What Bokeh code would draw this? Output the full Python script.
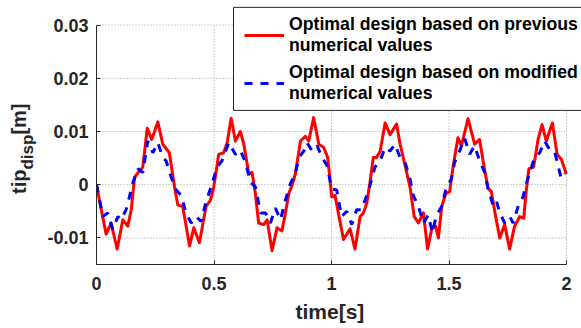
from bokeh.plotting import figure
from bokeh.layouts import row
from bokeh.models import Legend, LegendItem, FixedTicker, BoxAnnotation, Range1d, Title, Div
from bokeh.embed import file_html
from bokeh.resources import INLINE

# ---------------- data ----------------
t_prev = [0.000, 0.023, 0.041, 0.062, 0.088, 0.112, 0.133, 0.148, 0.162, 0.176,
          0.197, 0.216, 0.235, 0.261, 0.282, 0.310, 0.332, 0.346, 0.367, 0.396,
          0.414, 0.438, 0.466, 0.485, 0.499, 0.513, 0.520, 0.541, 0.556, 0.573,
          0.591, 0.612, 0.627, 0.648, 0.662, 0.676, 0.690, 0.712, 0.726, 0.747,
          0.768, 0.789, 0.804, 0.818, 0.832, 0.846, 0.868, 0.889, 0.903, 0.924,
          0.946, 0.967, 0.984, 1.001, 1.015, 1.029, 1.051, 1.079, 1.100, 1.122,
          1.136, 1.150, 1.164, 1.178, 1.192, 1.207, 1.228, 1.249, 1.277, 1.292,
          1.313, 1.334, 1.352, 1.370, 1.391, 1.409, 1.426, 1.443, 1.455, 1.469,
          1.486, 1.503, 1.517, 1.538, 1.553, 1.581, 1.609, 1.630, 1.645, 1.666,
          1.680, 1.701, 1.716, 1.737, 1.758, 1.779, 1.801, 1.818, 1.829, 1.840,
          1.860, 1.879, 1.896, 1.914, 1.940, 1.960, 1.978, 1.999]
y_prev = [0.0000, -0.0053, -0.0093, -0.0072, -0.0121, -0.0066, -0.0078, -0.0047, 0.0014, 0.0022,
          0.0033, 0.0106, 0.0085, 0.0118, 0.0076, 0.0060, -0.0004, -0.0038, -0.0041, -0.0115,
          -0.0081, -0.0109, -0.0041, -0.0029, -0.0004, 0.0036, 0.0057, 0.0060, 0.0079, 0.0125,
          0.0082, 0.0100, 0.0076, 0.0020, 0.0023, -0.0017, -0.0072, -0.0075, -0.0066, -0.0124,
          -0.0081, -0.0087, -0.0053, -0.0017, -0.0001, 0.0020, 0.0082, 0.0091, 0.0082, 0.0126,
          0.0076, 0.0070, 0.0051, -0.0023, -0.0020, -0.0053, -0.0103, -0.0083, -0.0121, -0.0060,
          -0.0053, -0.0035, 0.0005, 0.0051, 0.0051, 0.0063, 0.0116, 0.0094, 0.0114, 0.0076,
          0.0036, -0.0004, -0.0060, -0.0072, -0.0053, -0.0121, -0.0084, -0.0078, -0.0100, -0.0041,
          -0.0017, -0.0013, 0.0033, 0.0088, 0.0073, 0.0124, 0.0076, 0.0085, 0.0045, -0.0007,
          -0.0013, -0.0066, -0.0100, -0.0075, -0.0121, -0.0078, -0.0060, -0.0063, -0.0010, 0.0030,
          0.0033, 0.0085, 0.0113, 0.0082, 0.0116, 0.0057, 0.0048, 0.0020]

t_mod = [0.000, 0.027, 0.048, 0.069, 0.091, 0.105, 0.126, 0.140, 0.154, 0.176,
         0.197, 0.218, 0.240, 0.261, 0.282, 0.296, 0.318, 0.339, 0.360, 0.381,
         0.403, 0.424, 0.445, 0.466, 0.488, 0.513, 0.534, 0.563, 0.591, 0.612,
         0.634, 0.655, 0.676, 0.698, 0.719, 0.740, 0.761, 0.783, 0.804, 0.825,
         0.846, 0.861, 0.882, 0.896, 0.918, 0.939, 0.960, 0.981, 1.001, 1.022,
         1.043, 1.065, 1.086, 1.107, 1.128, 1.150, 1.164, 1.185, 1.207, 1.228,
         1.249, 1.270, 1.292, 1.313, 1.334, 1.348, 1.370, 1.391, 1.412, 1.429,
         1.447, 1.469, 1.486, 1.510, 1.524, 1.545, 1.566, 1.588, 1.609, 1.630,
         1.652, 1.666, 1.687, 1.701, 1.716, 1.737, 1.758, 1.773, 1.794, 1.815,
         1.829, 1.864, 1.886, 1.907, 1.928, 1.949, 1.964, 1.978, 1.992]
y_mod = [0.0000, -0.0060, -0.0053, -0.0084, -0.0060, -0.0066, -0.0047, -0.0023, 0.0002, 0.0030,
         0.0023, 0.0082, 0.0060, 0.0079, 0.0051, 0.0045, 0.0014, -0.0010, -0.0020, -0.0053,
         -0.0072, -0.0060, -0.0069, -0.0032, -0.0004, 0.0033, 0.0045, 0.0079, 0.0057, 0.0065,
         0.0042, 0.0005, -0.0004, -0.0053, -0.0053, -0.0072, -0.0044, -0.0066, -0.0029, 0.0002,
         0.0020, 0.0051, 0.0063, 0.0079, 0.0063, 0.0073, 0.0051, 0.0036, -0.0008, -0.0010,
         -0.0060, -0.0050, -0.0075, -0.0047, -0.0047, -0.0020, -0.0001, 0.0033, 0.0045, 0.0070,
         0.0063, 0.0076, 0.0051, 0.0042, 0.0011, -0.0020, -0.0041, -0.0072, -0.0057, -0.0090,
         -0.0057, -0.0041, -0.0010, 0.0011, 0.0042, 0.0063, 0.0088, 0.0057, 0.0073, 0.0045,
         0.0023, -0.0007, -0.0038, -0.0029, -0.0053, -0.0072, -0.0060, -0.0072, -0.0041, -0.0023,
         0.0002, 0.0051, 0.0060, 0.0082, 0.0066, 0.0063, 0.0036, 0.0011, 0.0020]

x_ticks = [0, 0.5, 1, 1.5, 2]
x_tick_labels = ["0", "0.5", "1", "1.5", "2"]
y_ticks = [-0.01, 0, 0.01, 0.02, 0.03]
y_tick_labels = ["-0.01", "0", "0.01", "0.02", "0.03"]
legend_labels = ["Optimal design based on previous\nnumerical values",
                 "Optimal design based on modified\nnumerical values"]
x_label = "time[s]"
y_label_parts = ["tip", "disp", "[m]"]

# ---------------- layout constants (page pixels) ----------------
FONT = "Liberation Sans"
AX = "#262626"
W, H = 581, 328
LW = 42                      # width of the narrow panel holding the y label
AX_L, AX_R, AX_T, AX_B = 96, 566, 25, 269   # axes box (data 0..2, -0.015..0.03)
X0, X1, Y0, Y1 = 0.0, 2.0, -0.015, 0.03
SX = (AX_R - AX_L) / (X1 - X0)
SY = (AX_B - AX_T) / (Y1 - Y0)


def px_to_x(px):
    return X0 + (px - AX_L) / SX


def py_to_y(py):
    return Y0 + (AX_B - py) / SY


# main figure: frame spans from axes-left to the right edge and from the top edge
p = figure(width=W - LW, height=H, output_backend="svg", toolbar_location=None,
           x_range=Range1d(X0, px_to_x(W)), y_range=Range1d(Y0, py_to_y(0)),
           min_border_left=AX_L - LW, min_border_right=0, min_border_top=0,
           min_border_bottom=H - AX_B)
p.outline_line_color = None
p.background_fill_color = "white"
p.border_fill_color = "white"
p.grid.visible = False

p.xaxis.ticker = FixedTicker(ticks=x_ticks)
p.yaxis.ticker = FixedTicker(ticks=y_ticks)
p.xaxis.major_label_overrides = dict(zip(x_ticks, x_tick_labels))
p.yaxis.major_label_overrides = dict(zip(y_ticks, y_tick_labels))
p.xaxis.bounds = (X0, X1)
p.yaxis.bounds = (Y0, Y1)

for ax in (p.xaxis, p.yaxis):
    ax.major_tick_in = 4
    ax.major_tick_out = 0
    ax.minor_tick_line_color = None
    ax.axis_line_color = AX
    ax.major_tick_line_color = AX
    ax.major_label_text_font = FONT
    ax.major_label_text_font_style = "bold"
    ax.major_label_text_font_size = "18px"
    ax.major_label_text_color = AX
p.xaxis.major_label_standoff = 12
p.yaxis.major_label_standoff = 8

# x label as a title below the axis, placed under the centre of the axes box
xt = Title(text=x_label, align="left", offset=199,
           standoff=11, text_font=FONT, text_font_style="bold",
           text_font_size="21px", text_color=AX)
p.add_layout(xt, "below")

# dotted grid limited to the axes box, built from the tick lists
p.segment(x0=x_ticks, y0=[Y0] * len(x_ticks), x1=x_ticks, y1=[Y1] * len(x_ticks),
          line_color="#9a9a9a", line_dash="1 2", line_width=1, level="underlay")
p.segment(x0=[X0] * len(y_ticks), y0=y_ticks, x1=[X1] * len(y_ticks), y1=y_ticks,
          line_color="#9a9a9a", line_dash="1 2", line_width=1, level="underlay")

r1 = p.line(t_prev, y_prev, line_color="#ff0000", line_width=3, line_join="round")
r2 = p.line(t_mod, y_mod, line_color="#0000ff", line_width=3, line_dash="8 8")

# legend frame box (page px 233..beyond right edge, 7..112)
p.add_layout(BoxAnnotation(left=px_to_x(233), right=px_to_x(W + 20),
                           top=py_to_y(7), bottom=py_to_y(112),
                           fill_color="white", fill_alpha=1.0,
                           line_color=AX, line_width=1, line_alpha=1.0))

legend = Legend(items=[LegendItem(label=legend_labels[0], renderers=[r1]),
                       LegendItem(label=legend_labels[1], renderers=[r2])],
                location=(244 - AX_L, AX_B - 109))
legend.label_text_font = FONT
legend.label_text_font_style = "bold"
legend.label_text_font_size = "17.7px"
legend.label_text_color = "black"
legend.glyph_width = 40
legend.label_standoff = 5
legend.padding = 7
legend.spacing = 6
legend.margin = 0
legend.border_line_color = None
legend.background_fill_alpha = 0.0
p.add_layout(legend)

# narrow left panel with the rotated y label (HTML text, subscript as a span)
ylab_html = (
    '<div style="position:absolute; left:9px; top:194px; transform:rotate(-90deg); '
    'transform-origin:0 0; white-space:nowrap; font-family:\'Liberation Sans\'; '
    f'font-weight:bold; font-size:20px; line-height:20px; color:{AX};">'
    f'{y_label_parts[0]}<span style="font-size:17px; vertical-align:-7px;">'
    f'{y_label_parts[1]}</span>{y_label_parts[2]}</div>'
)
ydiv = Div(text=ylab_html, width=LW, height=H, margin=0,
           styles={"position": "relative", "overflow": "visible"})

layout = row(ydiv, p, spacing=0)
open("out.html", "w").write(file_html(layout, INLINE))
